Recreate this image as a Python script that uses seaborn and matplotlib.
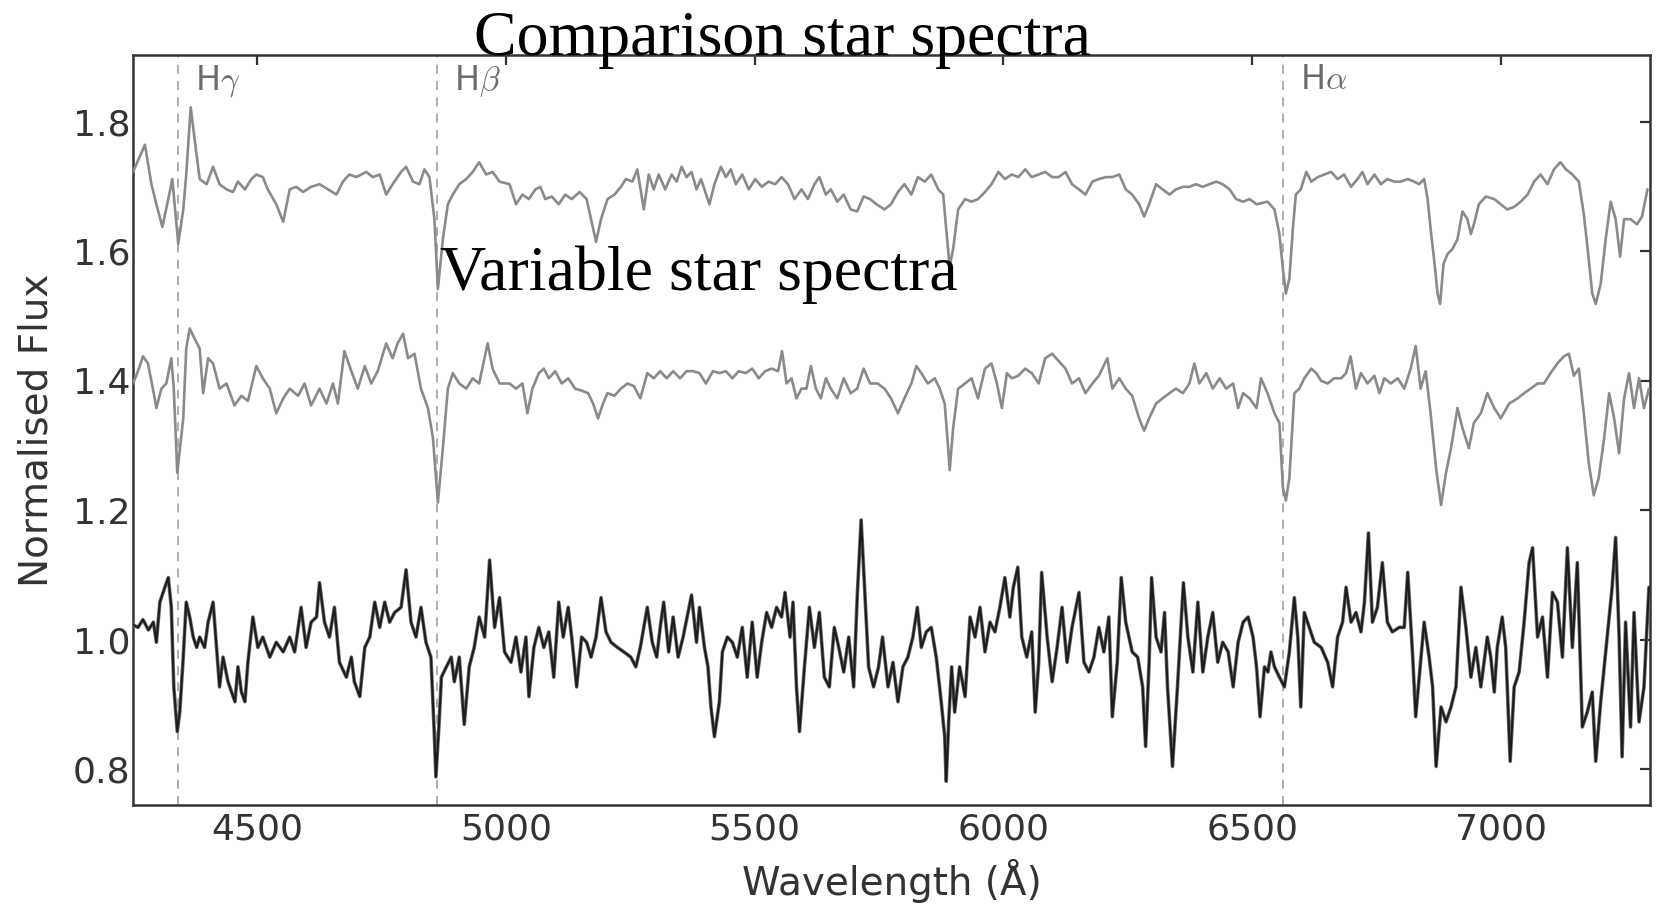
import matplotlib
matplotlib.use("Agg")
import matplotlib.pyplot as plt
import seaborn as sns

# ---------------- data ----------------
wl_comp = [4250, 4274, 4287, 4297, 4309, 4321, 4329, 4341, 4351, 4357, 4366, 4374, 4384, 4398,
           4411, 4424, 4438, 4451, 4461, 4475, 4488, 4498, 4511, 4521, 4538, 4552, 4565, 4578,
           4592, 4608, 4625, 4642, 4659, 4672, 4685, 4699, 4719, 4732, 4746, 4759, 4772, 4789,
           4799, 4813, 4826, 4836, 4846, 4856, 4863, 4873, 4883, 4893, 4906, 4920, 4933, 4946,
           4960, 4973, 4987, 5007, 5020, 5033, 5046, 5059, 5069, 5079, 5092, 5106, 5119, 5132,
           5148, 5162, 5171, 5181, 5191, 5204, 5218, 5231, 5241, 5254, 5264, 5277, 5287, 5297,
           5307, 5320, 5333, 5343, 5353, 5363, 5373, 5383, 5392, 5409, 5419, 5432, 5442, 5452,
           5462, 5475, 5488, 5501, 5514, 5528, 5541, 5554, 5567, 5580, 5594, 5607, 5620, 5630,
           5643, 5653, 5666, 5679, 5693, 5706, 5719, 5732, 5745, 5761, 5774, 5788, 5801, 5815,
           5828, 5842, 5855, 5869, 5879, 5885, 5892, 5899, 5909, 5923, 5936, 5949, 5963, 5976,
           5990, 6003, 6017, 6030, 6044, 6057, 6071, 6084, 6098, 6111, 6125, 6138, 6152, 6165,
           6179, 6192, 6206, 6219, 6233, 6246, 6259, 6273, 6283, 6293, 6307, 6320, 6334, 6347,
           6361, 6374, 6387, 6401, 6414, 6428, 6441, 6455, 6468, 6482, 6495, 6509, 6531, 6545,
           6555, 6562, 6568, 6575, 6582, 6588, 6598, 6609, 6619, 6632, 6645, 6659, 6672, 6685,
           6699, 6712, 6722, 6732, 6746, 6759, 6772, 6786, 6799, 6813, 6826, 6836, 6846, 6853,
           6859, 6866, 6873, 6878, 6885, 6893, 6903, 6913, 6923, 6933, 6940, 6946, 6956, 6970,
           6987, 7000, 7013, 7027, 7040, 7054, 7067, 7080, 7094, 7107, 7120, 7131, 7144, 7157,
           7167, 7177, 7184, 7191, 7201, 7211, 7221, 7231, 7240, 7248, 7261, 7274, 7284, 7295]
fl_comp = [1.723, 1.765, 1.704, 1.673, 1.638, 1.681, 1.712, 1.612, 1.665, 1.719, 1.823, 1.773, 1.712, 1.704,
           1.731, 1.704, 1.696, 1.692, 1.708, 1.696, 1.712, 1.719, 1.715, 1.696, 1.673, 1.646, 1.696, 1.700,
           1.692, 1.700, 1.704, 1.696, 1.688, 1.708, 1.719, 1.715, 1.723, 1.715, 1.719, 1.688, 1.704, 1.723,
           1.731, 1.708, 1.704, 1.727, 1.715, 1.650, 1.542, 1.619, 1.673, 1.688, 1.704, 1.712, 1.723, 1.738,
           1.719, 1.723, 1.708, 1.704, 1.673, 1.688, 1.681, 1.696, 1.700, 1.681, 1.685, 1.673, 1.688, 1.681,
           1.692, 1.681, 1.650, 1.615, 1.650, 1.681, 1.688, 1.700, 1.712, 1.708, 1.727, 1.665, 1.719, 1.696,
           1.719, 1.696, 1.719, 1.708, 1.731, 1.715, 1.723, 1.696, 1.712, 1.673, 1.704, 1.731, 1.715, 1.727,
           1.704, 1.719, 1.696, 1.712, 1.700, 1.708, 1.704, 1.715, 1.704, 1.681, 1.696, 1.681, 1.704, 1.715,
           1.688, 1.696, 1.677, 1.688, 1.665, 1.662, 1.685, 1.681, 1.673, 1.665, 1.673, 1.692, 1.704, 1.688,
           1.715, 1.708, 1.719, 1.696, 1.688, 1.635, 1.577, 1.604, 1.665, 1.681, 1.677, 1.681, 1.692, 1.704,
           1.723, 1.712, 1.719, 1.715, 1.727, 1.715, 1.719, 1.723, 1.715, 1.715, 1.723, 1.704, 1.696, 1.688,
           1.708, 1.712, 1.715, 1.715, 1.719, 1.696, 1.688, 1.673, 1.654, 1.673, 1.704, 1.696, 1.688, 1.696,
           1.700, 1.700, 1.704, 1.700, 1.704, 1.708, 1.704, 1.696, 1.681, 1.677, 1.681, 1.673, 1.677, 1.665,
           1.627, 1.573, 1.535, 1.558, 1.635, 1.688, 1.696, 1.723, 1.708, 1.715, 1.719, 1.723, 1.712, 1.719,
           1.700, 1.712, 1.723, 1.704, 1.719, 1.704, 1.712, 1.708, 1.708, 1.712, 1.708, 1.704, 1.712, 1.681,
           1.635, 1.588, 1.535, 1.519, 1.581, 1.596, 1.604, 1.619, 1.662, 1.650, 1.627, 1.642, 1.673, 1.685,
           1.681, 1.673, 1.665, 1.669, 1.677, 1.688, 1.708, 1.719, 1.704, 1.727, 1.738, 1.727, 1.719, 1.708,
           1.658, 1.588, 1.535, 1.519, 1.550, 1.619, 1.677, 1.650, 1.592, 1.650, 1.650, 1.642, 1.654, 1.696]

wl_var = [4250, 4260, 4270, 4280, 4290, 4297, 4307, 4317, 4327, 4332, 4339, 4351, 4357, 4364,
          4374, 4384, 4391, 4401, 4411, 4424, 4438, 4454, 4468, 4481, 4498, 4511, 4525, 4538,
          4552, 4565, 4582, 4595, 4608, 4625, 4639, 4652, 4662, 4675, 4689, 4702, 4716, 4729,
          4742, 4759, 4772, 4782, 4793, 4803, 4816, 4829, 4843, 4853, 4863, 4873, 4883, 4893,
          4906, 4920, 4933, 4946, 4963, 4973, 4987, 5007, 5020, 5033, 5043, 5053, 5066, 5076,
          5086, 5099, 5112, 5125, 5139, 5152, 5165, 5175, 5185, 5195, 5204, 5218, 5231, 5244,
          5257, 5270, 5284, 5297, 5310, 5323, 5336, 5350, 5363, 5376, 5389, 5402, 5416, 5429,
          5442, 5455, 5468, 5482, 5495, 5508, 5521, 5534, 5547, 5555, 5564, 5574, 5584, 5594,
          5604, 5613, 5623, 5633, 5643, 5653, 5666, 5679, 5693, 5706, 5719, 5732, 5747, 5761,
          5774, 5788, 5801, 5815, 5825, 5835, 5848, 5862, 5872, 5882, 5889, 5892, 5899, 5909,
          5923, 5936, 5949, 5963, 5976, 5987, 5997, 6007, 6017, 6030, 6044, 6057, 6071, 6084,
          6098, 6111, 6125, 6138, 6152, 6165, 6179, 6192, 6209, 6219, 6233, 6246, 6259, 6273,
          6283, 6293, 6307, 6320, 6334, 6347, 6361, 6374, 6384, 6394, 6408, 6421, 6435, 6448,
          6462, 6472, 6482, 6495, 6509, 6518, 6531, 6545, 6555, 6562, 6568, 6575, 6585, 6595,
          6605, 6619, 6629, 6639, 6652, 6665, 6679, 6689, 6698, 6709, 6719, 6732, 6746, 6756,
          6766, 6779, 6793, 6806, 6819, 6829, 6839, 6849, 6859, 6870, 6880, 6890, 6900, 6913,
          6923, 6936, 6946, 6960, 6973, 6987, 7000, 7017, 7034, 7047, 7060, 7074, 7087, 7100,
          7114, 7127, 7137, 7147, 7157, 7167, 7177, 7187, 7197, 7208, 7218, 7228, 7238, 7248,
          7258, 7268, 7278, 7288, 7298]
fl_var = [1.396, 1.415, 1.438, 1.427, 1.388, 1.358, 1.388, 1.396, 1.435, 1.388, 1.258, 1.342, 1.450, 1.481,
          1.465, 1.450, 1.381, 1.435, 1.427, 1.388, 1.396, 1.362, 1.377, 1.369, 1.423, 1.404, 1.388, 1.350,
          1.373, 1.388, 1.377, 1.396, 1.362, 1.388, 1.365, 1.396, 1.365, 1.446, 1.415, 1.388, 1.423, 1.396,
          1.415, 1.458, 1.435, 1.458, 1.473, 1.435, 1.442, 1.388, 1.358, 1.312, 1.212, 1.296, 1.388, 1.412,
          1.396, 1.388, 1.404, 1.396, 1.458, 1.419, 1.396, 1.396, 1.388, 1.396, 1.350, 1.388, 1.412, 1.419,
          1.404, 1.415, 1.396, 1.404, 1.388, 1.385, 1.381, 1.365, 1.342, 1.365, 1.381, 1.377, 1.388, 1.396,
          1.392, 1.373, 1.412, 1.404, 1.415, 1.404, 1.415, 1.404, 1.415, 1.415, 1.412, 1.396, 1.415, 1.412,
          1.415, 1.404, 1.415, 1.412, 1.419, 1.404, 1.415, 1.419, 1.415, 1.446, 1.396, 1.404, 1.373, 1.388,
          1.388, 1.423, 1.388, 1.373, 1.404, 1.388, 1.373, 1.404, 1.381, 1.388, 1.419, 1.396, 1.396, 1.388,
          1.373, 1.350, 1.373, 1.396, 1.423, 1.412, 1.396, 1.404, 1.388, 1.365, 1.296, 1.262, 1.327, 1.388,
          1.396, 1.404, 1.373, 1.419, 1.427, 1.396, 1.358, 1.412, 1.404, 1.408, 1.419, 1.412, 1.396, 1.435,
          1.442, 1.431, 1.419, 1.396, 1.404, 1.381, 1.396, 1.408, 1.435, 1.388, 1.404, 1.388, 1.377, 1.342,
          1.323, 1.342, 1.365, 1.373, 1.381, 1.388, 1.381, 1.396, 1.427, 1.396, 1.412, 1.388, 1.404, 1.388,
          1.396, 1.358, 1.381, 1.373, 1.358, 1.404, 1.381, 1.350, 1.335, 1.235, 1.215, 1.250, 1.381, 1.388,
          1.404, 1.419, 1.412, 1.400, 1.396, 1.404, 1.404, 1.412, 1.438, 1.388, 1.412, 1.396, 1.408, 1.381,
          1.404, 1.396, 1.404, 1.388, 1.419, 1.454, 1.388, 1.415, 1.350, 1.265, 1.208, 1.258, 1.296, 1.358,
          1.327, 1.296, 1.335, 1.350, 1.381, 1.358, 1.342, 1.365, 1.373, 1.381, 1.388, 1.396, 1.396, 1.412,
          1.427, 1.438, 1.442, 1.408, 1.419, 1.350, 1.273, 1.223, 1.250, 1.312, 1.381, 1.342, 1.288, 1.373,
          1.412, 1.358, 1.404, 1.358, 1.388]

wl_ratio = [4250, 4260, 4270, 4281, 4291, 4297, 4304, 4314, 4321, 4327, 4332, 4339, 4344, 4351,
            4357, 4364, 4371, 4378, 4384, 4394, 4401, 4411, 4418, 4424, 4431, 4441, 4455, 4461,
            4468, 4475, 4481, 4491, 4501, 4511, 4525, 4538, 4552, 4565, 4575, 4588, 4598, 4608,
            4619, 4625, 4635, 4645, 4655, 4665, 4679, 4689, 4695, 4706, 4716, 4726, 4736, 4746,
            4756, 4766, 4776, 4789, 4799, 4809, 4819, 4829, 4839, 4849, 4856, 4859, 4865, 4870,
            4880, 4890, 4896, 4906, 4916, 4926, 4936, 4946, 4957, 4967, 4977, 4987, 4997, 5010,
            5020, 5030, 5040, 5046, 5056, 5066, 5076, 5086, 5096, 5106, 5115, 5125, 5132, 5142,
            5152, 5162, 5171, 5181, 5191, 5201, 5211, 5224, 5237, 5251, 5261, 5270, 5284, 5294,
            5303, 5310, 5317, 5327, 5336, 5346, 5356, 5366, 5373, 5383, 5389, 5399, 5406, 5412,
            5419, 5429, 5435, 5445, 5455, 5465, 5475, 5485, 5495, 5505, 5514, 5524, 5534, 5544,
            5554, 5561, 5571, 5577, 5584, 5590, 5600, 5610, 5620, 5630, 5640, 5650, 5660, 5669,
            5679, 5689, 5699, 5706, 5714, 5722, 5729, 5739, 5749, 5757, 5768, 5778, 5788, 5798,
            5808, 5818, 5827, 5835, 5845, 5855, 5865, 5875, 5882, 5885, 5890, 5896, 5902, 5912,
            5923, 5933, 5943, 5953, 5963, 5973, 5983, 5993, 6003, 6013, 6020, 6029, 6037, 6047,
            6057, 6064, 6071, 6077, 6088, 6098, 6108, 6118, 6128, 6138, 6152, 6162, 6172, 6182,
            6192, 6202, 6212, 6219, 6229, 6237, 6246, 6259, 6270, 6280, 6286, 6293, 6298, 6307,
            6317, 6324, 6330, 6340, 6350, 6362, 6371, 6381, 6391, 6401, 6411, 6421, 6431, 6441,
            6452, 6462, 6472, 6482, 6492, 6502, 6509, 6516, 6525, 6532, 6538, 6545, 6555, 6565,
            6575, 6585, 6592, 6598, 6605, 6615, 6625, 6639, 6652, 6662, 6672, 6682, 6689, 6699,
            6709, 6719, 6726, 6734, 6742, 6752, 6762, 6772, 6782, 6796, 6806, 6813, 6823, 6829,
            6838, 6846, 6856, 6863, 6870, 6880, 6890, 6900, 6910, 6920, 6930, 6940, 6950, 6960,
            6973, 6980, 6987, 6993, 7003, 7010, 7019, 7027, 7037, 7047, 7057, 7064, 7074, 7084,
            7094, 7104, 7114, 7124, 7134, 7144, 7154, 7164, 7174, 7184, 7191, 7201, 7214, 7224,
            7231, 7238, 7244, 7251, 7261, 7268, 7278, 7288, 7298]
fl_ratio = [1.023, 1.019, 1.031, 1.015, 1.027, 0.996, 1.058, 1.081, 1.096, 1.050, 0.927, 0.858, 0.888, 0.973,
            1.058, 1.035, 1.004, 0.988, 1.004, 0.988, 1.027, 1.058, 0.988, 0.927, 0.973, 0.935, 0.904, 0.958,
            0.919, 0.904, 0.965, 1.035, 0.988, 1.004, 0.973, 0.996, 0.981, 1.004, 0.981, 1.050, 0.988, 1.027,
            1.035, 1.088, 1.027, 1.004, 1.050, 0.965, 0.942, 0.973, 0.935, 0.912, 0.988, 1.004, 1.058, 1.019,
            1.058, 1.027, 1.042, 1.050, 1.108, 1.027, 1.004, 1.050, 0.996, 0.973, 0.850, 0.788, 0.865, 0.942,
            0.958, 0.973, 0.935, 0.973, 0.869, 0.958, 0.988, 1.035, 1.004, 1.123, 1.019, 1.065, 0.981, 0.965,
            1.004, 0.950, 1.004, 0.912, 0.988, 1.019, 0.988, 1.012, 0.942, 1.058, 1.004, 1.050, 1.004, 0.927,
            1.004, 0.996, 0.973, 1.004, 1.065, 1.012, 0.996, 0.988, 0.981, 0.973, 0.958, 0.988, 1.050, 0.996,
            0.973, 1.019, 1.058, 0.981, 1.035, 0.973, 1.004, 1.042, 1.069, 0.996, 1.050, 0.988, 0.958, 0.896,
            0.850, 0.904, 0.981, 1.004, 0.996, 0.973, 1.019, 0.942, 1.027, 0.942, 0.996, 1.042, 1.019, 1.050,
            1.035, 1.073, 1.004, 1.058, 0.927, 0.858, 0.958, 1.050, 0.988, 1.042, 0.942, 0.927, 1.019, 0.988,
            0.950, 1.004, 0.927, 1.065, 1.185, 1.065, 0.958, 0.927, 0.958, 1.004, 0.927, 0.965, 0.904, 0.958,
            0.973, 1.004, 1.050, 0.988, 1.012, 1.019, 0.973, 0.904, 0.850, 0.781, 0.873, 0.958, 0.888, 0.958,
            0.912, 1.035, 1.004, 1.050, 0.981, 1.027, 1.012, 1.050, 1.096, 1.035, 1.081, 1.112, 1.004, 0.973,
            1.012, 0.888, 0.965, 1.104, 1.004, 0.935, 0.988, 1.050, 0.965, 1.019, 1.073, 0.965, 0.950, 0.973,
            1.019, 0.981, 1.035, 0.881, 0.965, 1.096, 1.027, 0.981, 0.973, 0.927, 0.835, 0.965, 1.096, 1.004,
            0.981, 1.042, 0.927, 0.804, 0.927, 1.088, 1.004, 0.950, 1.058, 0.950, 1.004, 1.042, 0.965, 0.996,
            0.981, 0.927, 0.996, 1.027, 1.035, 1.004, 0.958, 0.881, 0.958, 0.950, 0.981, 0.958, 0.942, 0.927,
            0.981, 1.065, 1.004, 0.896, 1.042, 1.019, 0.996, 0.988, 0.965, 0.927, 1.004, 1.027, 1.081, 1.027,
            1.042, 1.012, 1.058, 1.165, 1.027, 1.050, 1.119, 1.027, 1.012, 1.019, 1.019, 1.104, 0.973, 0.881,
            0.958, 1.027, 0.973, 0.927, 0.804, 0.896, 0.873, 0.896, 0.927, 1.081, 1.019, 0.942, 0.988, 0.927,
            1.004, 0.973, 0.919, 0.988, 1.035, 0.988, 0.812, 0.927, 0.950, 1.027, 1.119, 1.142, 1.004, 1.035,
            0.942, 1.073, 1.058, 0.973, 1.142, 0.988, 1.119, 0.865, 0.888, 0.919, 0.812, 0.904, 1.004, 1.081,
            1.158, 1.004, 0.819, 1.027, 0.865, 1.042, 0.873, 0.927, 1.081]

line_names = ["H$\\gamma$", "H$\\beta$", "H$\\alpha$"]
line_wl = [4340, 4861, 6563]

x_ticks = [4500, 5000, 5500, 6000, 6500, 7000]
y_ticks = [0.8, 1.0, 1.2, 1.4, 1.6, 1.8]

# ---------------- style ----------------
sns.set_style("white")
plt.rcParams["font.family"] = ["DejaVu Sans"]
plt.rcParams["mathtext.fontset"] = "cm"

fig = plt.figure(figsize=(16.71, 9.05), dpi=100)
ax = fig.add_axes([0.0796, 0.1109, 0.9078, 0.8278])

for wl in line_wl:
    ax.axvline(wl, color="#a8a8a8", lw=1.3, ls=(0, (5, 4)), zorder=1)

sns.lineplot(x=wl_comp, y=fl_comp, ax=ax, color="#8a8a8a", lw=1.9,
             estimator=None, sort=False, zorder=3)
sns.lineplot(x=wl_var, y=fl_var, ax=ax, color="#8a8a8a", lw=1.9,
             estimator=None, sort=False, zorder=3)
sns.lineplot(x=wl_ratio, y=fl_ratio, ax=ax, color="#6e6e6e", lw=2.6,
             estimator=None, sort=False, zorder=3)
sns.lineplot(x=wl_ratio, y=fl_ratio, ax=ax, color="#1c1c1c", lw=1.5,
             estimator=None, sort=False, zorder=4)

ax.set_xlim(4250, 7300)
ax.set_ylim(0.745, 1.903)
ax.set_xticks(x_ticks)
ax.set_yticks(y_ticks)
ax.set_yticklabels([f"{v:.1f}" for v in y_ticks])

for sp in ax.spines.values():
    sp.set_color("#333333")
    sp.set_linewidth(1.8)
ax.tick_params(axis="both", direction="in", length=7, width=1.6, color="#333333",
               top=True, right=True, labelsize=26, labelcolor="#333333")
ax.tick_params(axis="y", pad=2)
ax.tick_params(axis="x", pad=6)

ax.set_xlabel("Wavelength (Å)", fontsize=28, color="#333333")
ax.set_ylabel("Normalised Flux", fontsize=28, color="#333333")
ax.xaxis.set_label_coords(0.5, -0.072)
ax.yaxis.set_label_coords(-0.051, 0.5)

for name, wl in zip(line_names, line_wl):
    ax.text(wl + 34, 0.99, name, transform=ax.get_xaxis_transform(),
            fontsize=24, color="#6c6c6c", ha="left", va="top")

ax.text(0.2248, 1.0, "Comparison star spectra", transform=ax.transAxes,
        fontsize=46, family="Liberation Serif", color="black",
        ha="left", va="baseline", zorder=6)
ax.text(0.2024, 0.687, "Variable star spectra", transform=ax.transAxes,
        fontsize=46, family="Liberation Serif", color="black",
        ha="left", va="baseline", zorder=6)

fig.savefig("out.png", dpi=100, facecolor="white")
